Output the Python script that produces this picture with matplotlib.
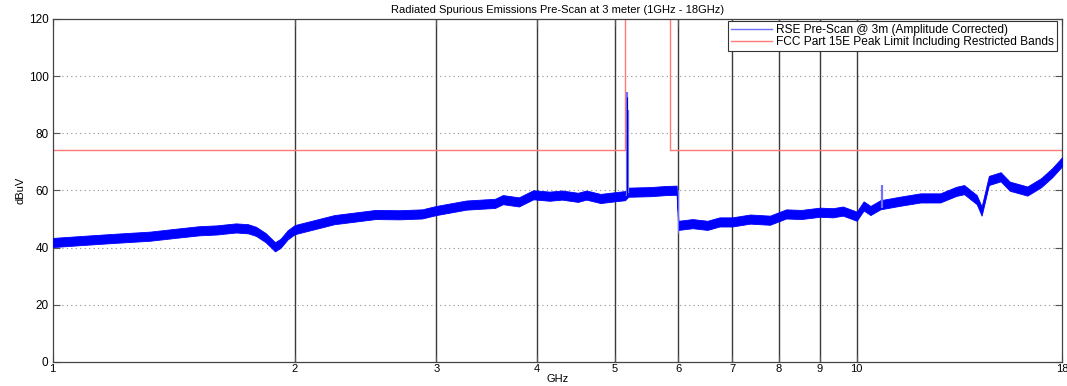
import numpy as np
import matplotlib
matplotlib.use("Agg")
import matplotlib.pyplot as plt
from matplotlib.lines import Line2D

plt.rcParams['font.family'] = ['Liberation Sans', 'DejaVu Sans']

# pre-scan trace, centre of the noisy band
scan_ghz = [1.00, 1.10, 1.20, 1.32, 1.42, 1.52, 1.60, 1.69, 1.75, 1.79, 1.84, 1.89,
            1.92, 1.96, 2.00, 2.24, 2.52, 2.70, 2.88, 3.00, 3.27, 3.55, 3.63, 3.80,
            3.96, 4.15, 4.30, 4.50, 4.61, 4.80, 5.00, 5.15, 5.20, 5.54, 5.80, 5.97,
            6.00, 6.25, 6.52, 6.75, 7.00, 7.37, 7.80, 8.17, 8.53, 9.00, 9.34, 9.61,
            10.0, 10.2, 10.4, 10.7, 11.3, 12.0, 12.7, 13.3, 13.6, 14.1, 14.3, 14.6,
            15.1, 15.5, 16.3, 16.95, 17.5, 18.0]
scan_dbuv = [41.8, 42.6, 43.3, 44.0, 45.0, 45.9, 46.2, 46.9, 46.6, 45.7, 43.5, 40.3,
             41.5, 44.5, 46.3, 49.8, 51.6, 51.5, 51.8, 53.0, 54.9, 55.5, 56.8, 56.0,
             58.5, 58.0, 58.4, 57.6, 58.4, 57.2, 57.8, 58.2, 59.4, 59.6, 60.0, 60.1,
             47.8, 48.4, 47.8, 49.0, 49.0, 50.0, 49.6, 51.8, 51.6, 52.4, 52.2, 52.8,
             51.0, 54.6, 53.0, 55.0, 56.2, 57.4, 57.4, 59.7, 60.3, 56.8, 52.8, 63.5,
             64.8, 61.5, 59.8, 62.7, 66.2, 70.0]
band_db = 3.2  # approx. thickness of the noise band

# narrow spikes in the trace
spike_ghz = [5.175, 5.19, 10.75]
spike_top = [94.5, 88.0, 62.0]

# FCC limit line
limit_ghz = [1.0, 5.15, 5.15, 5.85, 5.85, 18.0]
limit_dbuv = [74, 74, 130, 130, 74, 74]

marker_ghz = [2, 3, 4, 5, 6, 7, 8, 9, 10]
tick_ghz = [1, 2, 3, 4, 5, 6, 7, 8, 9, 10, 18]

fig = plt.figure(figsize=(10.67, 3.86), dpi=100)
ax = fig.add_axes([0.0494, 0.0622, 0.9459, 0.8886])

mid = np.array(scan_dbuv)
ax.fill_between(scan_ghz, mid - band_db / 2, mid + band_db / 2,
                color='blue', lw=0.6, zorder=3)
ax.vlines(spike_ghz, [58, 59, 54], spike_top, color='#7070ff', lw=1.6, zorder=3)
ax.vlines([5.177], [58], [92.7], color='#0000c0', lw=0.8, zorder=3)
ax.vlines([6.0], [45], [60], color='#7070ff', lw=0.8, zorder=3)
ax.plot(limit_ghz, limit_dbuv, color='#ff7a7a', lw=1.0, zorder=2)

for g in marker_ghz:
    ax.axvline(g, color='#3a3a3a', lw=1.0, zorder=1)

ax.set_xscale('log')
ax.set_xlim(1, 18)
ax.set_ylim(0, 120)
ax.set_xticks(tick_ghz)
ax.set_xticklabels([str(t) for t in tick_ghz])
ax.xaxis.set_minor_locator(matplotlib.ticker.NullLocator())
ax.set_yticks([0, 20, 40, 60, 80, 100, 120])
for yv in [20, 40, 60, 80, 100]:
    ax.axhline(yv, color='#909090', lw=0.8, ls=(0, (1, 3)), zorder=0)

ax.tick_params(direction='in', length=5, width=0.8, color='#555555',
               top=True, right=True)
ax.tick_params(axis='y', labelsize=8.5, pad=3)
ax.tick_params(axis='x', labelsize=8, pad=1.5)
for s in ax.spines.values():
    s.set_color('#444444')
    s.set_linewidth(0.9)

ax.set_title('Radiated Spurious Emissions Pre-Scan at 3 meter (1GHz - 18GHz)',
             fontsize=8, pad=4)
ax.set_xlabel('GHz', fontsize=8, labelpad=0)
ax.set_ylabel('dBuV', fontsize=8, labelpad=2)

handles = [Line2D([], [], color='#6f6fff', lw=1.0),
           Line2D([], [], color='#ff7a7a', lw=1.0)]
leg = ax.legend(handles, ['RSE Pre-Scan @ 3m (Amplitude Corrected)',
                          'FCC Part 15E Peak Limit Including Restricted Bands'],
                loc='upper right', bbox_to_anchor=(0.995, 0.994), fontsize=8.6,
                fancybox=False, framealpha=1, edgecolor='#333333',
                handlelength=3.4, borderpad=0.25, labelspacing=0.0,
                borderaxespad=0.0, handletextpad=0.35)
leg.get_frame().set_linewidth(0.8)
leg.set_zorder(5)

fig.savefig('out.png', dpi=100)
